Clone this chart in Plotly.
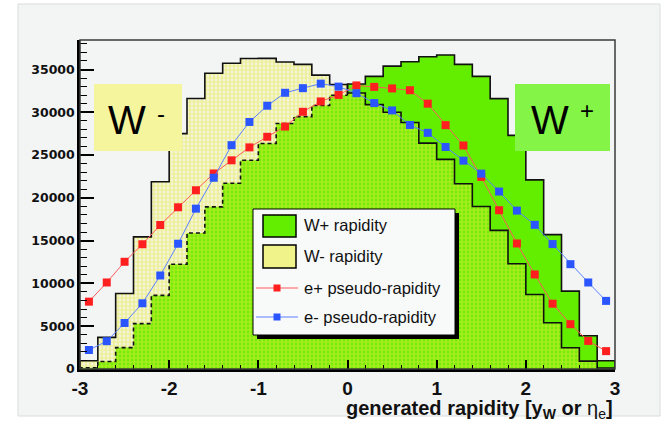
import numpy as np
import plotly.graph_objects as go

# Binning of the rapidity histograms (30 bins of 0.2 from -3 to 3)
bin_edges = np.round(np.linspace(-3.0, 3.0, 31), 2)
bin_centers = np.round((bin_edges[:-1] + bin_edges[1:]) / 2, 2)

# Generated W+ rapidity (entries per bin)
w_plus = [150, 880, 2500, 5300, 8600, 12250, 15900, 18950, 21700, 24400,
          26350, 28700, 29500, 30800, 32000, 33300, 34200, 35400, 35900, 36500,
          36700, 35600, 34200, 31600, 27300, 22100, 15700, 9100, 3880, 970]

# Generated W- rapidity (entries per bin)
w_minus = [970, 3700, 8830, 15440, 21880, 27510, 31610, 34570, 35740, 36280,
           36300, 35880, 35600, 34350, 33250, 32250, 30900, 30000, 28800, 26400,
           24500, 21650, 19000, 16200, 12300, 8700, 5400, 2480, 920, 120]

# Decay electron pseudo-rapidity, one value per bin centre
e_plus = [7870, 10110, 12530, 14580, 16830, 18900, 20890, 22850, 24390, 25900,
          27140, 28330, 30060, 31270, 32030, 33140, 32970, 32790, 32580, 31010,
          28500, 26120, 22450, 18560, 14670, 11050, 7630, 5240, 3280, 2090]
e_minus = [2220, 3250, 5380, 7680, 10930, 14640, 18740, 22350, 26160, 28870,
           30770, 32280, 32820, 33350, 33000, 32230, 31080, 30220, 28520, 27600,
           25950, 24350, 22830, 20740, 18510, 16850, 14600, 12250, 10110, 7960]

x_tick_vals = [-3, -2, -1, 0, 1, 2, 3]
x_tick_text = ["-3", "-2", "-1", "0", "1", "2", "3"]
y_tick_vals = [0, 5000, 10000, 15000, 20000, 25000, 30000, 35000]

legend_labels = ["W+ rapidity", "W- rapidity", "e+ pseudo-rapidity", "e- pseudo-rapidity"]

GREEN = "#63ee00"
YELLOW = "#eaea3c"
RED_M = "#ff1f1f"
RED_L = "#ff5a5a"
BLUE_M = "#2a55ff"
BLUE_L = "#5c80ff"
FONT = "Liberation Sans, Arial, sans-serif"


def step_polygon(edges, vals):
    """Closed step outline of a histogram (starts and ends on zero)."""
    xs = np.repeat(edges, 2)
    ys = np.concatenate([[0], np.repeat(vals, 2), [0]])
    return xs, ys


wp_x, wp_y = step_polygon(bin_edges, w_plus)
wm_x, wm_y = step_polygon(bin_edges, w_minus)
mid = 2 * 15  # point index of the y = 0 bin edge

fig = go.Figure()

# W+ : solid green area
fig.add_trace(go.Scatter(x=wp_x, y=wp_y, mode="lines", fill="toself",
                         fillcolor=GREEN, line=dict(width=0),
                         hoverinfo="skip", showlegend=False))
# W- : dotted yellow pattern laid over everything below it
fig.add_trace(go.Scatter(x=wm_x, y=wm_y, mode="lines", fill="toself",
                         fillcolor="rgba(0,0,0,0)", line=dict(width=0),
                         fillpattern=dict(shape=".", size=4, solidity=0.7,
                                          fgcolor=YELLOW, bgcolor="rgba(0,0,0,0)"),
                         hoverinfo="skip", showlegend=False))
# histogram outlines
fig.add_trace(go.Scatter(x=wp_x[:mid + 1], y=wp_y[:mid + 1], mode="lines",
                         line=dict(color="#111111", width=1.6, dash="4px,3px"),
                         hoverinfo="skip", showlegend=False))
fig.add_trace(go.Scatter(x=wp_x[mid:], y=wp_y[mid:], mode="lines",
                         line=dict(color="#111111", width=1.6),
                         hoverinfo="skip", showlegend=False))
fig.add_trace(go.Scatter(x=wm_x, y=wm_y, mode="lines",
                         line=dict(color="#111111", width=1.6),
                         hoverinfo="skip", showlegend=False))

# electron pseudo-rapidity curves
fig.add_trace(go.Scatter(x=bin_centers, y=e_plus, mode="lines+markers",
                         line=dict(color=RED_L, width=1),
                         marker=dict(symbol="square", size=8, color=RED_M),
                         showlegend=False))
fig.add_trace(go.Scatter(x=bin_centers, y=e_minus, mode="lines+markers",
                         line=dict(color=BLUE_L, width=1),
                         marker=dict(symbol="square", size=8, color=BLUE_M),
                         showlegend=False))

# ---- page geometry helpers (pixel -> paper) ----
L, R, T, B = 80, 615, 40, 369


def px(x):
    return (x - L) / (R - L)


def py(y):
    return (B - y) / (B - T)


shapes = []
# light grey canvas behind the pad
shapes.append(dict(type="rect", xref="paper", yref="paper", layer="below",
                   x0=px(18), x1=px(660), y0=py(416), y1=py(4),
                   fillcolor="#f3f5f5", line=dict(color="#d9dddd", width=1)))
# pad frame
shapes.append(dict(type="rect", xref="paper", yref="paper", layer="above",
                   x0=0, x1=1, y0=0, y1=1,
                   line=dict(color="#3a3a3a", width=1.5)))

# W- / W+ labels boxes
shapes.append(dict(type="rect", xref="paper", yref="paper", layer="above",
                   x0=px(94), x1=px(182), y0=py(151), y1=py(84),
                   fillcolor="#f4f59c", line=dict(width=0)))
shapes.append(dict(type="rect", xref="paper", yref="paper", layer="above",
                   x0=px(515), x1=px(610), y0=py(151), y1=py(84),
                   fillcolor="#84f546", line=dict(width=0)))

# legend box with drop shadow
shapes.append(dict(type="rect", xref="paper", yref="paper", layer="above",
                   x0=px(257), x1=px(459), y0=py(339), y1=py(213),
                   fillcolor="#000000", line=dict(width=0)))
shapes.append(dict(type="rect", xref="paper", yref="paper", layer="above",
                   x0=px(253), x1=px(455), y0=py(335), y1=py(209),
                   fillcolor="#f8f9f9", line=dict(color="#000000", width=1)))
# legend swatches
shapes.append(dict(type="rect", xref="paper", yref="paper", layer="above",
                   x0=px(263), x1=px(296), y0=py(237), y1=py(215),
                   fillcolor=GREEN, line=dict(color="#000000", width=1.5)))
shapes.append(dict(type="rect", xref="paper", yref="paper", layer="above",
                   x0=px(263), x1=px(296), y0=py(268), y1=py(245),
                   fillcolor="#f0f28a", line=dict(color="#000000", width=1.5)))
for yy, lc, mc in [(288, RED_L, RED_M), (317, BLUE_L, BLUE_M)]:
    shapes.append(dict(type="line", xref="paper", yref="paper", layer="above",
                       x0=px(256), x1=px(298), y0=py(yy), y1=py(yy),
                       line=dict(color=lc, width=1.2)))
    shapes.append(dict(type="rect", xref="paper", yref="paper", layer="above",
                       x0=px(273.5), x1=px(280.5), y0=py(yy + 3.5), y1=py(yy - 3.5),
                       fillcolor=mc, line=dict(width=0)))

annotations = []
for label, yy in zip(legend_labels, [225, 256, 288, 317]):
    annotations.append(dict(text=label, xref="paper", yref="paper",
                            x=px(302), y=py(yy), xanchor="left", yanchor="middle",
                            showarrow=False, font=dict(family=FONT, size=16.5, color="#111111")))

annotations += [
    dict(text="W", xref="paper", yref="paper", x=px(126.5), y=py(120),
         xanchor="center", yanchor="middle", showarrow=False,
         font=dict(family=FONT, size=40, color="#000000")),
    dict(text="-", xref="paper", yref="paper", x=px(160.5), y=py(114),
         xanchor="center", yanchor="middle", showarrow=False,
         font=dict(family=FONT, size=24, color="#000000")),
    dict(text="W", xref="paper", yref="paper", x=px(550), y=py(120),
         xanchor="center", yanchor="middle", showarrow=False,
         font=dict(family=FONT, size=40, color="#000000")),
    dict(text="+", xref="paper", yref="paper", x=px(586.5), y=py(111),
         xanchor="center", yanchor="middle", showarrow=False,
         font=dict(family=FONT, size=24, color="#000000")),
    dict(text="<b>generated rapidity [y<sub>W</sub> or </b>η<sub>e</sub><b>]</b>",
         xref="paper", yref="paper", x=1.0, y=py(409),
         xanchor="right", yanchor="middle", showarrow=False,
         font=dict(family=FONT, size=20, color="#111111")),
]

fig.update_layout(
    width=663, height=429,
    margin=dict(l=L, r=663 - R, t=T, b=429 - B),
    paper_bgcolor="#ffffff",
    plot_bgcolor="#f6f8f8",
    showlegend=False,
    shapes=shapes,
    annotations=annotations,
)

fig.update_xaxes(
    range=[-3, 3], showgrid=False, zeroline=False,
    showline=True, linecolor="#000000", linewidth=2.5,
    tickmode="array", tickvals=x_tick_vals, ticktext=x_tick_text,
    ticks="inside", ticklen=9, tickwidth=1.5, tickcolor="#000000",
    ticklabelstandoff=0,
    tickfont=dict(family=FONT, size=19, color="#111111", weight="bold"),
    minor=dict(tickmode="linear", tick0=-3, dtick=0.2, ticks="inside",
               ticklen=4, tickwidth=1, tickcolor="#000000"),
)
fig.update_yaxes(
    range=[0, 38450], showgrid=False, zeroline=False,
    showline=True, linecolor="#000000", linewidth=2.5,
    tickmode="array", tickvals=y_tick_vals, tickformat="d",
    ticks="inside", ticklen=14, tickwidth=1.5, tickcolor="#000000",
    tickfont=dict(family="DejaVu Sans", size=12.5, color="#111111", weight="bold"),
    minor=dict(tickmode="linear", tick0=0, dtick=1000, ticks="inside",
               ticklen=7, tickwidth=1, tickcolor="#000000"),
)

fig.write_html("out.html")
